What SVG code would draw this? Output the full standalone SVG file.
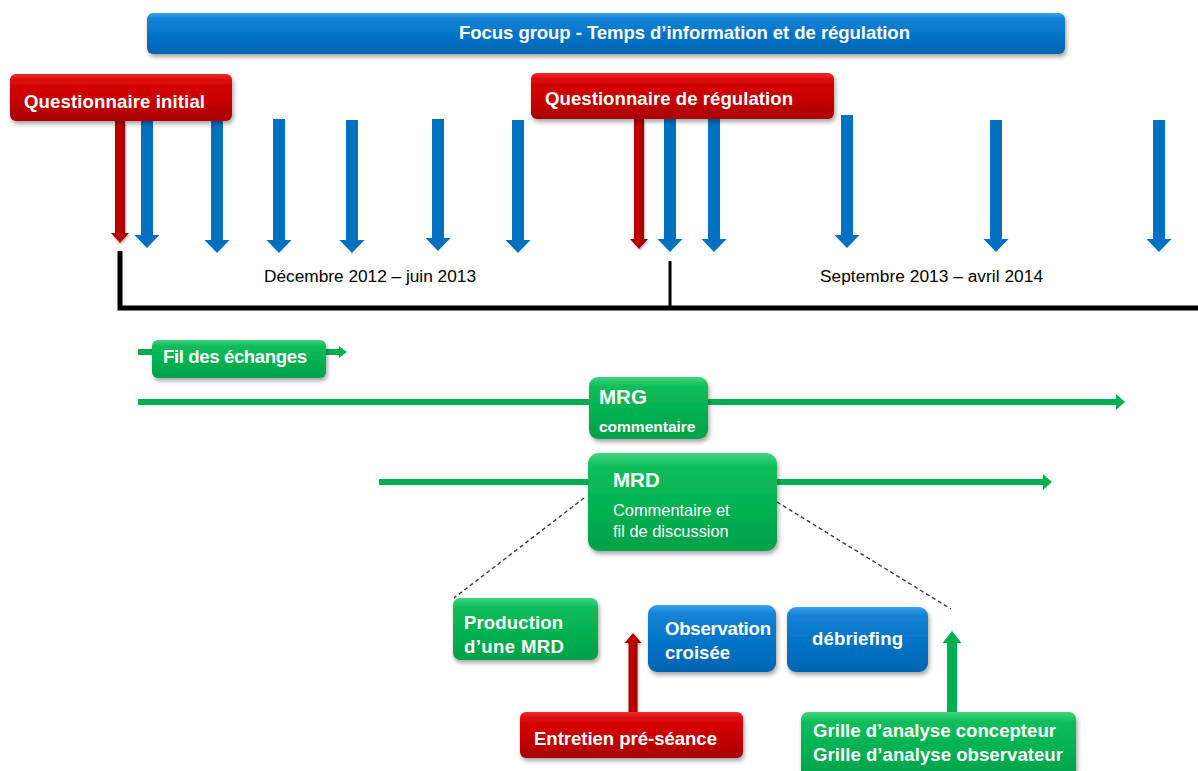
<svg xmlns="http://www.w3.org/2000/svg" width="1198" height="771" viewBox="0 0 1198 771">
<defs>
<linearGradient id="gBlue" x1="0" y1="0" x2="0" y2="1">
<stop offset="0" stop-color="#3aa3ec"/><stop offset="0.12" stop-color="#1683d6"/><stop offset="0.6" stop-color="#0072c4"/><stop offset="1" stop-color="#0064b0"/>
</linearGradient>
<linearGradient id="gRed" x1="0" y1="0" x2="0" y2="1">
<stop offset="0" stop-color="#f0282c"/><stop offset="0.15" stop-color="#d80808"/><stop offset="0.6" stop-color="#c40000"/><stop offset="1" stop-color="#a80000"/>
</linearGradient>
<linearGradient id="gGreen" x1="0" y1="0" x2="0" y2="1">
<stop offset="0" stop-color="#3fd47e"/><stop offset="0.15" stop-color="#10bd5a"/><stop offset="0.6" stop-color="#00b050"/><stop offset="1" stop-color="#00a048"/>
</linearGradient>
<linearGradient id="gRedArrow" x1="0" y1="0" x2="1" y2="0">
<stop offset="0" stop-color="#8a0000"/><stop offset="0.45" stop-color="#c80000"/><stop offset="1" stop-color="#7a0000"/>
</linearGradient>
<filter id="sh" x="-10%" y="-20%" width="125%" height="160%">
<feDropShadow dx="1.5" dy="3" stdDeviation="2" flood-color="#000" flood-opacity="0.35"/>
</filter>
<filter id="shs" x="-50%" y="-10%" width="200%" height="130%">
<feDropShadow dx="1" dy="1.5" stdDeviation="1" flood-color="#000" flood-opacity="0.3"/>
</filter>
</defs>
<style>
.t{font-family:"Liberation Sans",Arial,sans-serif;fill:#fff;font-weight:bold;font-size:18.6px}
.big{font-size:20.5px}
.sm{font-size:15.5px}
.reg{font-weight:normal;font-size:16.4px}
.d{font-family:"Liberation Sans",Arial,sans-serif;fill:#000;font-size:17.3px}
.bl{fill:url(#gBlue);filter:url(#sh)}
.rd{fill:url(#gRed);filter:url(#sh)}
.gr{fill:url(#gGreen);filter:url(#sh)}
.ba{fill:#0070c0}
.ra{fill:url(#gRedArrow);filter:url(#shs)}
.ga{fill:#00b050}
.gl{fill:#00b050}
.dash{fill:none;stroke:#3a3a3a;stroke-width:1.4;stroke-dasharray:4 3}
.tl{fill:none;stroke:#000}
</style>
<rect width="1198" height="771" fill="#fff"/>

<g id="timeline">
<path class="tl" d="M120,251 V308 H1198" stroke-width="5"/>
<path class="tl" d="M670,261 V308" stroke-width="3"/>
<text class="d" x="264" y="282" textLength="212">Décembre 2012 – juin 2013</text>
<text class="d" x="820" y="282" textLength="223">Septembre 2013 – avril 2014</text>
</g>

<g id="connectors">
<polygon class="ba" points="141,121 153,121 153,235 159.5,235 147,248 134.5,235 141,235"/>
<polygon class="ba" points="211,121 223,121 223,240 229.5,240 217,253 204.5,240 211,240"/>
<polygon class="ba" points="273,119 285,119 285,240 291.5,240 279,253 266.5,240 273,240"/>
<polygon class="ba" points="346,120 358,120 358,240 364.5,240 352,253 339.5,240 346,240"/>
<polygon class="ba" points="432,119 444,119 444,238 450.5,238 438,251 425.5,238 432,238"/>
<polygon class="ba" points="512,120 524,120 524,240 530.5,240 518,253 505.5,240 512,240"/>
<polygon class="ba" points="664,119 676,119 676,239 682.5,239 670,252 657.5,239 664,239"/>
<polygon class="ba" points="708,119 720,119 720,239 726.5,239 714,252 701.5,239 708,239"/>
<polygon class="ba" points="841,115 853,115 853,235 859.5,235 847,248 834.5,235 841,235"/>
<polygon class="ba" points="990,120 1002,120 1002,239 1008.5,239 996,252 983.5,239 990,239"/>
<polygon class="ba" points="1153,120 1165,120 1165,239 1171.5,239 1159,252 1146.5,239 1153,239"/>
<polygon class="ra" points="115,121 125,121 125,233 129,233 120,243 111,233 115,233"/>
<polygon class="ra" points="634,119 644,119 644,239 648,239 639,249 630,239 634,239"/>
<polygon class="gl" points="138,349 339,349 339,346 347,352 339,358 339,355 138,355"/>
<polygon class="gl" points="138,399 1116,399 1116,394 1125,402 1116,410 1116,405 138,405"/>
<polygon class="gl" points="379,479 1043,479 1043,474 1052,482 1043,490 1043,485 379,485"/>
<line class="dash" x1="584" y1="498" x2="454" y2="598"/>
<line class="dash" x1="777" y1="502" x2="951" y2="609"/>
<polygon class="ra" points="628.5,712 637.5,712 637.5,643 641.5,643 633,633 624.5,643 628.5,643"/>
<polygon class="ga" points="947,712 957,712 957,643 961.5,643 952,631 942.5,643 947,643"/>
</g>

<g id="focus-group">
<rect class="bl" x="147" y="13" width="918" height="41" rx="6"/>
<text class="t" x="459" y="39" textLength="451">Focus group - Temps d’information et de régulation</text>
</g>

<g id="questionnaire-initial">
<rect class="rd" x="10" y="74" width="222" height="47" rx="6"/>
<text class="t" x="24" y="108" textLength="181">Questionnaire initial</text>
</g>

<g id="questionnaire-regulation">
<rect class="rd" x="531" y="73" width="303" height="46" rx="6"/>
<text class="t" x="545" y="105" textLength="248">Questionnaire de régulation</text>
</g>

<g id="fil-echanges">
<rect class="gr" x="152" y="340" width="174" height="38" rx="6"/>
<text class="t" x="163" y="363" textLength="144">Fil des échanges</text>
</g>

<g id="mrg">
<rect class="gr" x="589" y="377" width="119" height="62" rx="9"/>
<text class="t big" x="599" y="404">MRG</text>
<text class="t sm" x="599" y="432">commentaire</text>
</g>

<g id="mrd">
<rect class="gr" x="588" y="453" width="189" height="98" rx="11"/>
<text class="t big" x="613" y="487">MRD</text>
<text class="t reg" x="613" y="516">Commentaire et</text>
<text class="t reg" x="613" y="537">fil de discussion</text>
</g>

<g id="production-mrd">
<rect class="gr" x="453" y="598" width="145" height="62" rx="7"/>
<text class="t" x="464" y="629" textLength="99">Production</text>
<text class="t" x="464" y="653" textLength="100">d’une MRD</text>
</g>

<g id="observation-croisee">
<rect class="bl" x="648" y="605" width="128" height="67" rx="9"/>
<text class="t" x="665" y="635" textLength="106">Observation</text>
<text class="t" x="665" y="659">croisée</text>
</g>

<g id="debriefing">
<rect class="bl" x="787" y="607" width="141" height="65" rx="9"/>
<text class="t" x="812" y="645" textLength="91">débriefing</text>
</g>

<g id="entretien">
<rect class="rd" x="520" y="712" width="223" height="46" rx="6"/>
<text class="t" x="534" y="745" textLength="183">Entretien pré-séance</text>
</g>

<g id="grille">
<rect class="gr" x="801" y="712" width="275" height="66" rx="7"/>
<text class="t" x="813" y="737" textLength="243">Grille d’analyse concepteur</text>
<text class="t" x="813" y="761" textLength="250">Grille d’analyse observateur</text>
</g>
</svg>
